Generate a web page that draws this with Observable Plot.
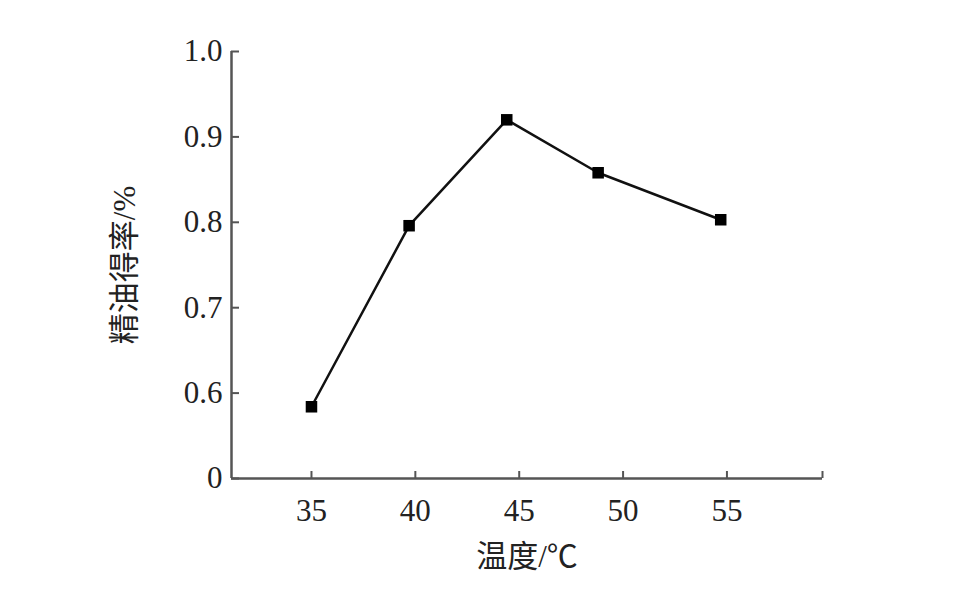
<!DOCTYPE html>
<html><head><meta charset="utf-8">
<script src="https://cdn.jsdelivr.net/npm/d3@7"></script>
<script src="https://cdn.jsdelivr.net/npm/@observablehq/plot@0.6"></script>
<style>body{margin:0;background:#fff}</style>
</head><body><div id="chart"></div>
<script>
const temperature = [35, 39.7, 44.4, 48.8, 54.7];
const oilYield = [0.584, 0.796, 0.920, 0.858, 0.803];
const xTickValues = [35, 40, 45, 50, 55];
const yTickValues = [0.5, 0.6, 0.7, 0.8, 0.9, 1.0];
const yTickLabels = ["0", "0.6", "0.7", "0.8", "0.9", "1.0"];
const xDomain = [31.15, 59.6];
const yDomain = [0.5, 1.0];
const xLabel = "温度/℃";
const yLabel = "精油得率/%";

const data = temperature.map((t, i) => ({t, v: oilYield[i]}));
const xTickMarks = [...xTickValues, xDomain[1]];
const font = "'Liberation Serif', 'Noto Sans CJK SC', serif";
const axisColor = "#555";

const chart = Plot.plot({
  width: 962,
  height: 598,
  marginLeft: 231,
  marginRight: 140,
  marginTop: 51,
  marginBottom: 120,
  style: {fontFamily: font, background: "#fff", color: "#222", overflow: "visible"},
  x: {type: "linear", domain: xDomain},
  y: {type: "linear", domain: yDomain},
  marks: [
    Plot.ruleY([yDomain[0]], {stroke: axisColor, strokeWidth: 2.5}),
    Plot.ruleX([xDomain[0]], {stroke: axisColor, strokeWidth: 2.5}),
    Plot.axisX(xTickMarks, {
      anchor: "bottom", label: null, tickSize: -7, tickPadding: 27,
      tickFormat: d => xTickValues.includes(d) ? String(d) : "",
      fontSize: 31, stroke: axisColor, fill: "#222", strokeWidth: 2
    }),
    Plot.axisY(yTickValues, {
      anchor: "left", label: null, tickSize: -8, tickPadding: 17,
      tickFormat: d => yTickLabels[yTickValues.indexOf(d)],
      fontSize: 31, stroke: axisColor, fill: "#222", strokeWidth: 2
    }),
    Plot.line(data, {x: "t", y: "v", stroke: "#111", strokeWidth: 2.5}),
    Plot.dot(data, {x: "t", y: "v", symbol: "square", r: 6.5, fill: "#000", stroke: "none"}),
    Plot.text([xLabel], {text: d => d, frameAnchor: "bottom", dy: 79, textAnchor: "middle", lineAnchor: "middle", fontSize: 31, fill: "#222"}),
    Plot.text([yLabel], {text: d => d, frameAnchor: "left", dx: -106, rotate: -90, textAnchor: "middle", lineAnchor: "middle", fontSize: 31, fill: "#222"})
  ]
});
document.getElementById("chart").appendChild(chart);
</script>
</body></html>
